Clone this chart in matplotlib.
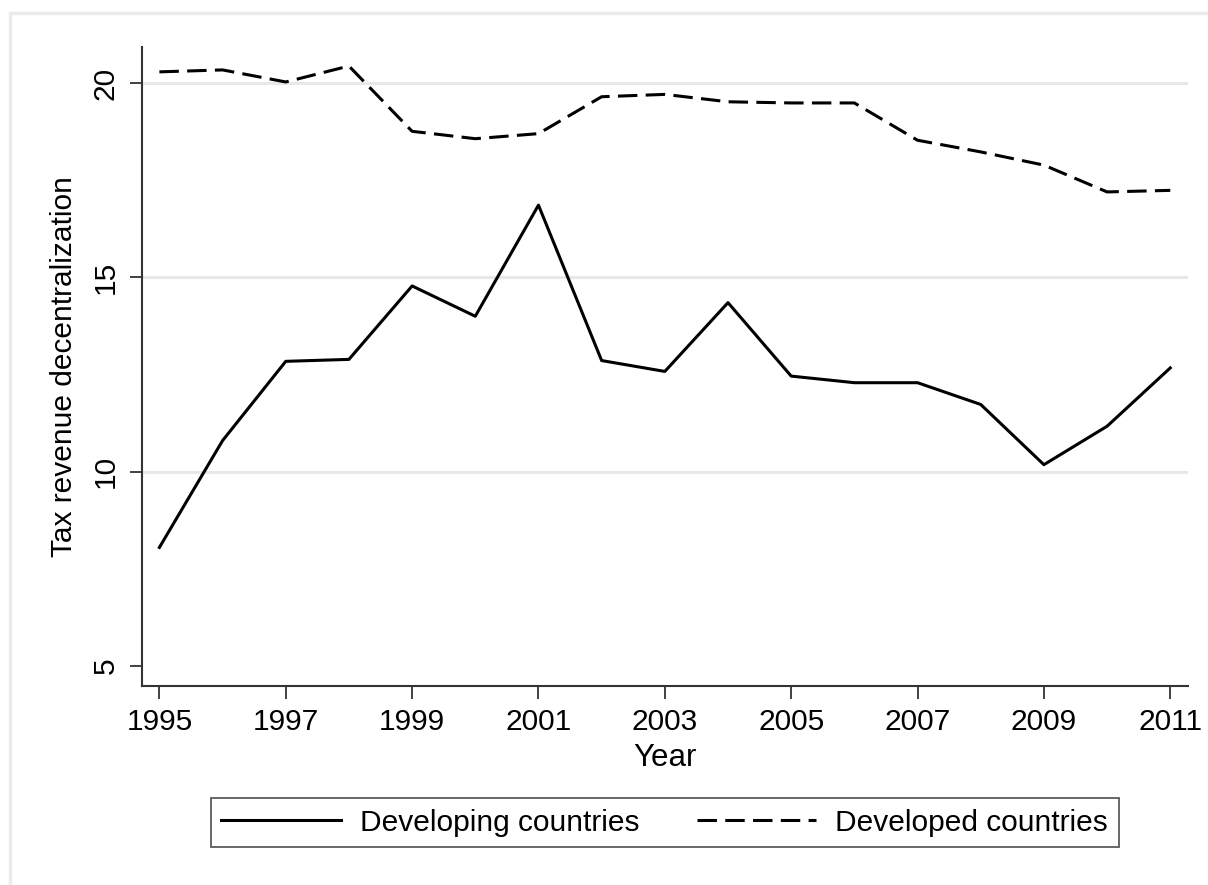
import matplotlib.pyplot as plt
from matplotlib.patches import Rectangle

years = list(range(1995, 2012))
developing = [8.05, 10.80, 12.84, 12.89, 14.78, 14.00, 16.86, 12.86, 12.58,
              14.35, 12.46, 12.29, 12.29, 11.73, 10.18, 11.17, 12.67]
developed = [20.29, 20.34, 20.03, 20.44, 18.76, 18.57, 18.70, 19.65, 19.71,
             19.52, 19.49, 19.49, 18.53, 18.23, 17.89, 17.20, 17.24]
x_ticks = [1995, 1997, 1999, 2001, 2003, 2005, 2007, 2009, 2011]
y_ticks = [5, 10, 15, 20]
grid_vals = [10, 15, 20]

plt.rcParams['font.family'] = ['Liberation Sans', 'DejaVu Sans']
plt.rcParams['font.size'] = 21.5
plt.rcParams['lines.scale_dashes'] = False

fig = plt.figure(figsize=(12.08, 8.85), dpi=100)
fig.patch.set_facecolor('white')

# light outer frame like the Stata graph region
fig.patches.append(Rectangle((10 / 1208, -0.2), 1.2, 1.2 - 13 / 885,
                             transform=fig.transFigure, fill=False,
                             edgecolor='#ebebeb', linewidth=2.5, zorder=0))

ax = fig.add_axes([0.1173, 0.2249, 0.9834 - 0.1173, 0.9469 - 0.2249])
ax.set_facecolor('white')

for g in grid_vals:
    ax.axhline(g, color='#e8e8e8', linewidth=2.2, zorder=1)

ax.plot(years, developing, color='black', linewidth=2.2, label='Developing countries', zorder=3)
ax.plot(years, developed, color='black', linewidth=2.2, linestyle=(0, (14, 6)),
        label='Developed countries', zorder=3)

ax.set_xlim(1994.72, 2011.28)
ax.set_ylim(4.485, 20.93)
ax.set_xticks(x_ticks)
ax.set_yticks(y_ticks)
ax.set_yticklabels([str(v) for v in y_ticks], rotation=90, va='center')

for side in ['top', 'right']:
    ax.spines[side].set_visible(False)
for side in ['left', 'bottom']:
    ax.spines[side].set_color('#333333')
    ax.spines[side].set_linewidth(1.5)
ax.tick_params(direction='out', length=9, width=1.3, color='#333333', pad=7,
               labelsize=21.5)

ax.set_xlabel('Year', fontsize=22.5, labelpad=5)
ax.set_ylabel('Tax revenue decentralization', fontsize=21.5, labelpad=10)

leg = fig.legend(loc='center', bbox_to_anchor=(0.5503, 0.0706), ncol=2,
                 frameon=True, fancybox=False, handlelength=4.0,
                 handletextpad=0.65, columnspacing=1.9, borderpad=0.35,
                 fontsize=21.5)
leg.get_frame().set_edgecolor('#333333')
leg.get_frame().set_linewidth(1.3)

fig.savefig('out.png', dpi=100, facecolor='white')
